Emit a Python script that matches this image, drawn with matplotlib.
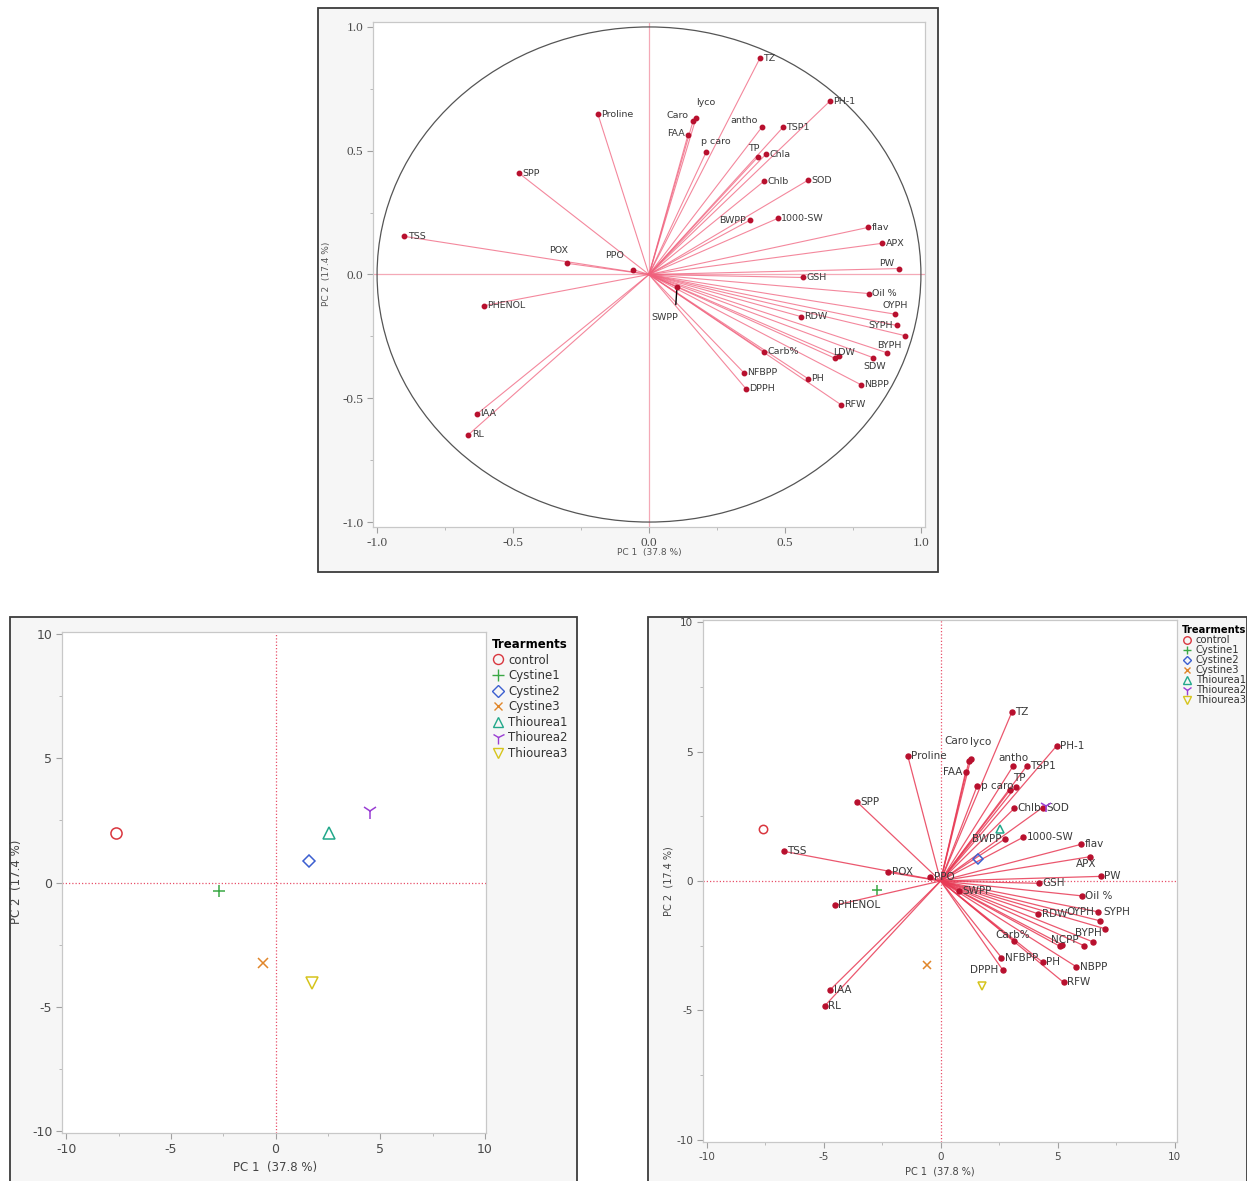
"""
PCA figure: correlation (loading) circle on top, score plot bottom-left,
biplot (scores + scaled loadings) bottom-right.
"""

import matplotlib
matplotlib.use("Agg")
import matplotlib.pyplot as plt
from matplotlib.lines import Line2D
from matplotlib.patches import Rectangle, Circle
from matplotlib.ticker import MultipleLocator

plt.rcParams["axes.unicode_minus"] = False

# ---- data ----
VARIABLES = ["TZ", "PH-1", "Proline", "Caro", "lyco", "FAA", "antho", "TSP1",
             "p caro", "TP", "Chla", "SPP", "Chlb", "SOD", "BWPP", "1000-SW",
             "flav", "TSS", "APX", "PW", "POX", "PPO", "GSH", "Oil %", "OYPH",
             "SYPH", "", "PHENOL", "RDW", "SWPP", "BYPH", "Carb%", "LDW", "NCPP",
             "SDW", "NFBPP", "PH", "DPPH", "NBPP", "RFW", "IAA", "RL"]
PC1_LOAD = [0.408, 0.665, -0.188, 0.162, 0.173, 0.143, 0.415, 0.493,
            0.210, 0.400, 0.430, -0.478, 0.423, 0.585, 0.371, 0.474,
            0.805, -0.900, 0.857, 0.919, -0.300, -0.059, 0.566, 0.809, 0.904,
            0.912, 0.941, -0.607, 0.559, 0.103, 0.875, 0.423, 0.683, 0.697,
            0.824, 0.349, 0.585, 0.357, 0.779, 0.706, -0.632, -0.665]
PC2_LOAD = [0.874, 0.700, 0.648, 0.620, 0.632, 0.563, 0.595, 0.595,
            0.494, 0.474, 0.486, 0.409, 0.377, 0.381, 0.219, 0.227,
            0.190, 0.154, 0.126, 0.024, 0.045, 0.020, -0.012, -0.077, -0.160,
            -0.206, -0.247, -0.126, -0.170, -0.050, -0.316, -0.312, -0.338, -0.330,
            -0.336, -0.397, -0.421, -0.462, -0.445, -0.526, -0.563, -0.648]

TREATMENTS = ["control", "Cystine1", "Cystine2", "Cystine3",
              "Thiourea1", "Thiourea2", "Thiourea3"]
SCORE_PC1 = [-7.6, -2.7, 1.6, -0.6, 2.55, 4.5, 1.75]
SCORE_PC2 = [2.0, -0.35, 0.85, -3.25, 2.0, 2.9, -4.05]

BIPLOT_SCALE = 7.45     # loadings stretched onto the score axes
PC1_LABEL = "PC 1  (37.8 %)"
PC2_LABEL = "PC 2  (17.4 %)"
LEGEND_TITLE = "Trearments"

# ---- styling ----
TRT_STYLE = {
    "control":   ("o", "#d9363e", 8),
    "Cystine1":  ("+", "#3aa845", 9),
    "Cystine2":  ("D", "#3c5fd0", 6.5),
    "Cystine3":  ("x", "#e0862a", 7),
    "Thiourea1": ("^", "#22a88a", 8.5),
    "Thiourea2": ("1", "#9a3ed4", 11),
    "Thiourea3": ("v", "#d6c41c", 8.5),
}
LINE_C = "#f0607c"
DOT_C = "#b8102e"
TXT_C = "#3a3a3a"
SPINE_C = "#c8c8c8"
REF_C = "#e8506a"

# label offsets (points, ha, va); anything missing goes to the right of the dot
LOAD_OFFSETS = {
    "Caro": (-3, 4, "right", "center"), "lyco": (7, 11, "center", "center"),
    "FAA": (-2, 1, "right", "center"), "antho": (-3, 5, "right", "center"),
    "p caro": (-4, 8, "left", "center"), "TP": (-3, 6, "center", "center"),
    "BWPP": (-3, 0, "right", "center"), "PW": (-9, 4, "center", "center"),
    "POX": (-6, 9, "center", "center"), "PPO": (-13, 10, "center", "center"),
    "OYPH": (0, 6, "center", "center"), "SYPH": (-12, 0, "center", "center"),
    "BYPH": (2, 5, "center", "center"), "SDW": (1, -6, "center", "center"),
    "LDW": (7, 4, "center", "center"),
}
LOAD_HIDE = {"", "NCPP", "SWPP"}
BI_OFFSETS = {
    "Caro": (-9, 15, "center", "center"), "lyco": (7, 12, "center", "center"),
    "FAA": (-2, 0, "right", "center"), "antho": (0, 6, "center", "center"),
    "TP": (6.5, 8, "center", "center"), "BWPP": (-3, 0, "right", "center"),
    "APX": (-3, -5.5, "center", "center"), "OYPH": (-3, 0, "right", "center"),
    "SYPH": (3, 6.5, "left", "center"), "BYPH": (-3.5, 6.5, "center", "center"),
    "NCPP": (2, 3, "center", "center"), "Carb%": (-1, 4.5, "center", "center"),
    "DPPH": (-3, 0, "right", "center"),
}
BI_HIDE = {"", "Chla", "LDW", "SDW"}

W, H = 1247, 1181
fig = plt.figure(figsize=(W / 100, H / 100), dpi=100)


def px_box(x0, y0, x1, y1):
    """pixel box (top-left origin) -> figure fraction [l, b, w, h]"""
    return [x0 / W, 1 - y1 / H, (x1 - x0) / W, (y1 - y0) / H]


def panel_frame(x0, y0, x1, y1):
    l, b, w, h = px_box(x0, y0, x1, y1)
    fig.add_artist(Rectangle((l, b), w, h, transform=fig.transFigure,
                             facecolor="#f6f6f6", edgecolor="#3c3c3c",
                             lw=1.3, zorder=0))


def style_axes(ax, major, minor, labelsize, family="DejaVu Sans"):
    for s in ax.spines.values():
        s.set_color(SPINE_C)
        s.set_linewidth(0.9)
    ax.xaxis.set_major_locator(MultipleLocator(major))
    ax.yaxis.set_major_locator(MultipleLocator(major))
    ax.xaxis.set_minor_locator(MultipleLocator(minor))
    ax.yaxis.set_minor_locator(MultipleLocator(minor))
    ax.tick_params(which="major", length=4, color="#a0a0a0", labelsize=labelsize,
                   labelcolor="#4a4a4a", pad=3)
    ax.tick_params(which="minor", length=2, color="#b0b0b0")
    for lab in ax.get_xticklabels() + ax.get_yticklabels():
        lab.set_family(family)


def label_vectors(ax, xs, ys, offsets, hide, fs):
    for name, x, y in zip(VARIABLES, xs, ys):
        if name in hide:
            continue
        dx, dy, ha, va = offsets.get(name, (2.5, 0, "left", "center"))
        ax.annotate(name, (x, y), xytext=(dx, dy), textcoords="offset points",
                    ha=ha, va=va, fontsize=fs, color=TXT_C, zorder=5)


# ================= top: loading circle =================
panel_frame(318, 8, 938, 572)
ax1 = fig.add_axes(px_box(373, 22, 925, 527))
ax1.set_xlim(-1.015, 1.015)
ax1.set_ylim(-1.02, 1.02)
ax1.axhline(0, color="#f4a9b7", lw=0.9, zorder=1)
ax1.axvline(0, color="#f4a9b7", lw=0.9, zorder=1)
ax1.add_patch(Circle((0, 0), 1.0, fill=False, edgecolor="#555555", lw=0.9, zorder=2))
for x, y in zip(PC1_LOAD, PC2_LOAD):
    ax1.plot([0, x], [0, y], color=LINE_C, lw=0.8, alpha=0.75, zorder=3)
ax1.plot(PC1_LOAD, PC2_LOAD, "o", color=DOT_C, ms=3.2, zorder=4)
label_vectors(ax1, PC1_LOAD, PC2_LOAD, LOAD_OFFSETS, LOAD_HIDE, 6.8)
# SWPP label sits below its dot with a leader line
i = VARIABLES.index("SWPP")
ax1.annotate("SWPP", (PC1_LOAD[i], PC2_LOAD[i]), xytext=(-9, -22),
             textcoords="offset points", ha="center", va="center",
             fontsize=6.8, color=TXT_C,
             arrowprops=dict(arrowstyle="-", color="black", lw=1.0,
                             shrinkA=4, shrinkB=0, relpos=(0.9, 1.0)))
style_axes(ax1, 0.5, 0.25, 9.5, family="Liberation Serif")
ax1.xaxis.set_major_formatter(plt.FormatStrFormatter("%.1f"))
ax1.yaxis.set_major_formatter(plt.FormatStrFormatter("%.1f"))
for lab in ax1.get_xticklabels() + ax1.get_yticklabels():
    lab.set_family("Liberation Serif")
fig.text(649 / W, 1 - 553 / H, PC1_LABEL, ha="center", va="center",
         fontsize=6.5, color="#555555")
fig.text(327 / W, 1 - 274 / H, PC2_LABEL, ha="center", va="center",
         fontsize=6.5, color="#555555", rotation=90)


def draw_scores(ax, size_scale):
    for name, x, y in zip(TREATMENTS, SCORE_PC1, SCORE_PC2):
        m, c, ms = TRT_STYLE[name]
        ax.plot([x], [y], linestyle="none", marker=m, ms=ms * size_scale,
                mec=c, mfc="none", mew=1.1, zorder=6)


def add_legend(ax, size_scale, fs, spacing):
    handles = []
    for name in TREATMENTS:
        m, c, ms = TRT_STYLE[name]
        handles.append(Line2D([], [], linestyle="none", marker=m,
                              ms=ms * size_scale * 0.9, mec=c, mfc="none",
                              mew=1.0, label=name))
    leg = ax.legend(handles=handles, loc="upper left", bbox_to_anchor=(1.0, 1.0),
                    frameon=False, fontsize=fs, title=LEGEND_TITLE,
                    title_fontproperties={"weight": "bold", "size": fs},
                    alignment="left", handlelength=1.0, handletextpad=0.4,
                    labelspacing=spacing, borderaxespad=0.3, borderpad=0.2)
    for t in leg.get_texts():
        t.set_color("#333333")


def ref_lines(ax):
    ax.axhline(0, color=REF_C, lw=0.9, ls=(0, (1, 1.6)), zorder=1)
    ax.axvline(0, color=REF_C, lw=0.9, ls=(0, (1, 1.6)), zorder=1)


# ================= bottom-left: scores =================
panel_frame(10, 617, 577, 1190)
ax2 = fig.add_axes(px_box(62, 632, 486, 1133))
ax2.set_xlim(-10.2, 10.05)
ax2.set_ylim(-10.1, 10.1)
ref_lines(ax2)
draw_scores(ax2, 1.0)
style_axes(ax2, 5, 2.5, 9)
add_legend(ax2, 1.0, 8.5, 0.22)
fig.text(275 / W, 1 - 1167 / H, PC1_LABEL, ha="center", va="center",
         fontsize=8.5, color="#444444")
fig.text(17 / W, 1 - 882 / H, PC2_LABEL, ha="center", va="center",
         fontsize=8.5, color="#444444", rotation=90)

# ================= bottom-right: biplot =================
panel_frame(648, 617, 1247, 1190)
ax3 = fig.add_axes(px_box(703, 620, 1177, 1142))
ax3.set_xlim(-10.15, 10.1)
ax3.set_ylim(-10.08, 10.08)
ref_lines(ax3)
bx = [v * BIPLOT_SCALE for v in PC1_LOAD]
by = [v * BIPLOT_SCALE for v in PC2_LOAD]
for x, y in zip(bx, by):
    ax3.plot([0, x], [0, y], color="#e83a55", lw=0.9, alpha=0.85, zorder=3)
ax3.plot(bx, by, "o", color=DOT_C, ms=3.6, zorder=4)
label_vectors(ax3, bx, by, BI_OFFSETS, BI_HIDE, 7.5)
draw_scores(ax3, 0.75)
style_axes(ax3, 5, 2.5, 7.5)
add_legend(ax3, 0.75, 7.2, 0.0)
fig.text(940 / W, 1 - 1172 / H, PC1_LABEL, ha="center", va="center",
         fontsize=7, color="#444444")
fig.text(668 / W, 1 - 881 / H, PC2_LABEL, ha="center", va="center",
         fontsize=7, color="#444444", rotation=90)

fig.savefig("out.png", dpi=100, facecolor="white")
